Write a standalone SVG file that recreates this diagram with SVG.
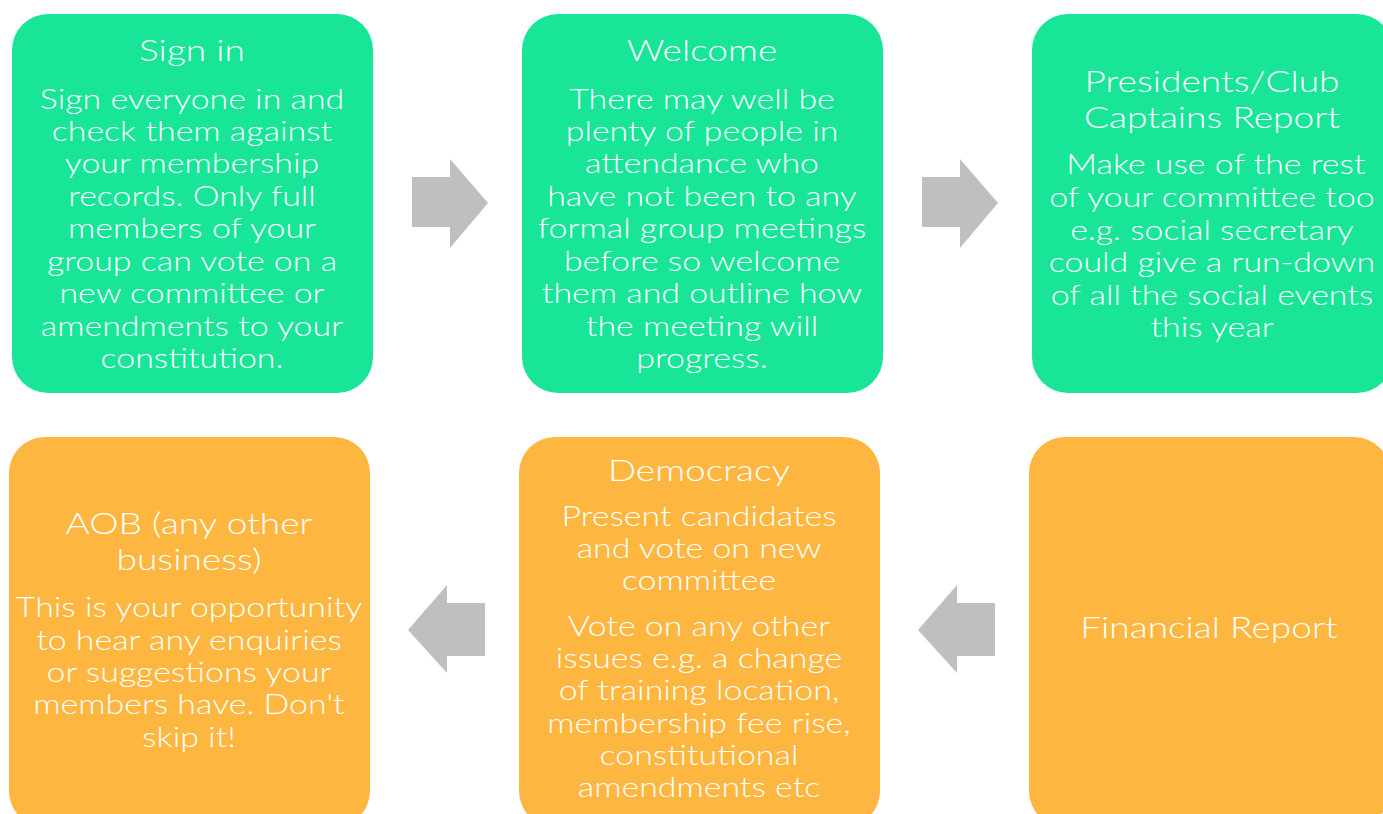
<svg xmlns="http://www.w3.org/2000/svg" width="1383" height="814" viewBox="0 0 1383 814">
<style>
.g{fill:#19E598}
.o{fill:#FDB63F}
.arr{fill:#BFBFBF}
text{font-family:Lato,"Liberation Sans",sans-serif;fill:#FFFFFF;text-anchor:middle;font-weight:300}
.t{font-size:29px}
.b{font-size:26.5px}
</style>
<rect width="1383" height="814" fill="#FFFFFF"/>
<g id="connectors">
<polygon class="arr" points="412,177 450,177 450,159 488,203 450,248 450,227 412,227"/>
<polygon class="arr" points="922,177 960,177 960,159 998,203 960,248 960,227 922,227"/>
<polygon class="arr" points="485,603 447,603 447,585 408,630 447,673 447,656 485,656"/>
<polygon class="arr" points="995,603 957,603 957,585 918,630 957,673 957,656 995,656"/>
</g>
<g id="sign-in">
<rect class="g" x="12" y="14" width="361" height="379" rx="36"/>
<g transform="translate(192 0) scale(1.28 1)">
<text class="t" x="0" y="61">Sign in</text>
<text class="b"><tspan x="0" y="109">Sign everyone in and</tspan><tspan x="0" y="141">check them against</tspan><tspan x="0" y="173">your membership</tspan><tspan x="0" y="206">records. Only full</tspan><tspan x="0" y="238">members of your</tspan><tspan x="0" y="271">group can vote on a</tspan><tspan x="0" y="303">new committee or</tspan><tspan x="0" y="336">amendments to your</tspan><tspan x="0" y="368">constitution.</tspan></text>
</g>
</g>
<g id="welcome">
<rect class="g" x="522" y="14" width="361" height="379" rx="36"/>
<g transform="translate(702 0) scale(1.28 1)">
<text class="t" x="0" y="61">Welcome</text>
<text class="b"><tspan x="0" y="109">There may well be</tspan><tspan x="0" y="141">plenty of people in</tspan><tspan x="0" y="173">attendance who</tspan><tspan x="0" y="206">have not been to any</tspan><tspan x="0" y="238">formal group meetings</tspan><tspan x="0" y="271">before so welcome</tspan><tspan x="0" y="303">them and outline how</tspan><tspan x="0" y="336">the meeting will</tspan><tspan x="0" y="368">progress.</tspan></text>
</g>
</g>
<g id="presidents-report">
<rect class="g" x="1032" y="14" width="361" height="379" rx="36"/>
<g transform="translate(1212 0) scale(1.28 1)">
<text class="t"><tspan x="0" y="92">Presidents/Club</tspan><tspan x="0" y="128">Captains Report</tspan></text>
<text class="b"><tspan x="3" y="174">Make use of the rest</tspan><tspan x="0" y="207">of your committee too</tspan><tspan x="0" y="240">e.g. social secretary</tspan><tspan x="0" y="272">could give a run-down</tspan><tspan x="0" y="305">of all the social events</tspan><tspan x="0" y="337">this year</tspan></text>
</g>
</g>
<g id="financial-report">
<rect class="o" x="1029" y="437" width="361" height="390" rx="36"/>
<g transform="translate(1209 0) scale(1.28 1)">
<text class="t" x="0" y="638">Financial Report</text>
</g>
</g>
<g id="democracy">
<rect class="o" x="519" y="437" width="361" height="390" rx="36"/>
<g transform="translate(699 0) scale(1.28 1)">
<text class="t" x="0" y="481">Democracy</text>
<text class="b"><tspan x="0" y="526">Present candidates</tspan><tspan x="0" y="558">and vote on new</tspan><tspan x="0" y="590">committee</tspan><tspan x="0" y="636">Vote on any other</tspan><tspan x="0" y="668">issues e.g. a change</tspan><tspan x="0" y="700">of training location,</tspan><tspan x="0" y="733">membership fee rise,</tspan><tspan x="0" y="765">constitutional</tspan><tspan x="0" y="797">amendments etc</tspan></text>
</g>
</g>
<g id="aob">
<rect class="o" x="9" y="437" width="361" height="390" rx="36"/>
<g transform="translate(189 0) scale(1.28 1)">
<text class="t"><tspan x="0" y="534">AOB (any other</tspan><tspan x="0" y="570">business)</tspan></text>
<text class="b"><tspan x="0" y="617">This is your opportunity</tspan><tspan x="0" y="650">to hear any enquiries</tspan><tspan x="0" y="682">or suggestions your</tspan><tspan x="0" y="714">members have. Don't</tspan><tspan x="0" y="747">skip it!</tspan></text>
</g>
</g>
</svg>
